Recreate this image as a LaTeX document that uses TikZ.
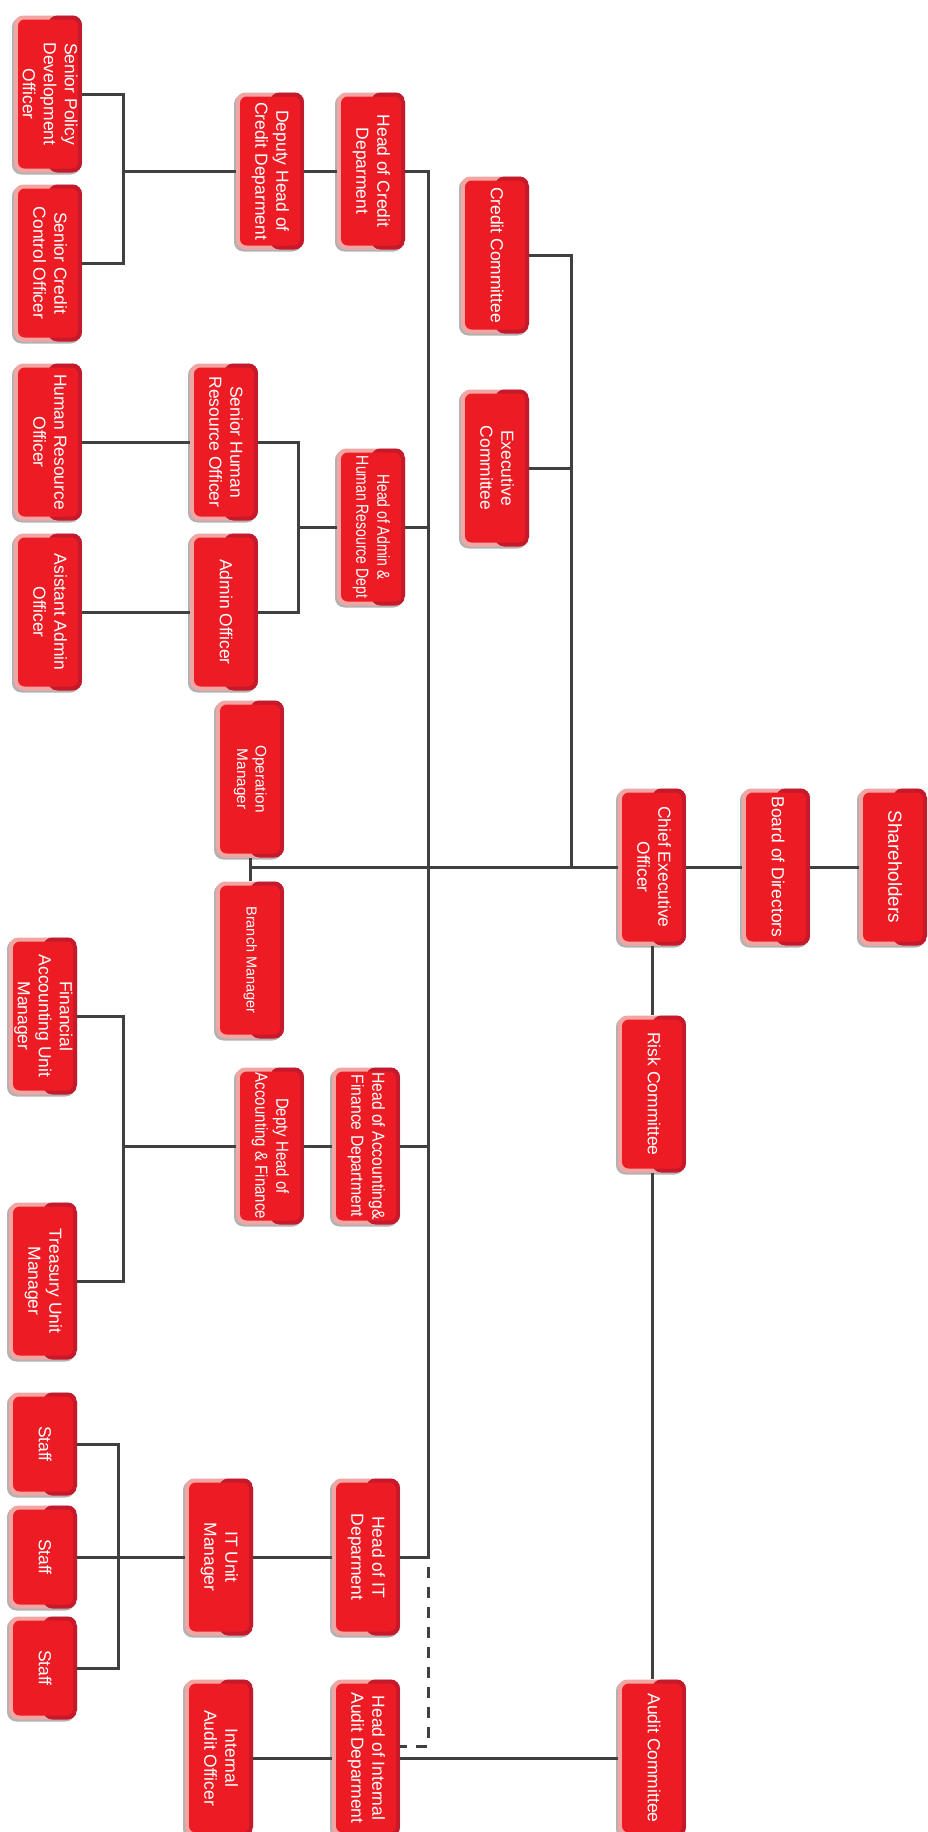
\documentclass[tikz,border=0pt]{standalone}
\usepackage{fontspec}
\usepackage{graphicx}
\newfontfamily\boxfamily{Liberation Sans}
\usetikzlibrary{shadows}
\definecolor{boxred}{HTML}{ED1C24}
\definecolor{boxpink}{HTML}{F2A6A4}
\definecolor{boxdark}{HTML}{C41A2C}
\definecolor{linegrey}{HTML}{404040}
\newcommand{\boxfontsel}{\boxfamily\fontsize{13.1pt}{15.75pt}\selectfont}
\newcommand{\bt}[1]{\rotatebox{-90}{\begin{tabular}{@{}c@{}}#1\end{tabular}}}
\newcommand{\bts}[3]{\rotatebox{-90}{\scalebox{#1}[#2]{\begin{tabular}{@{}c@{}}#3\end{tabular}}}}
\begin{document}
\begin{tikzpicture}[x=0.75pt,y=-0.75pt,
  orgbox/.style={rectangle, rounded corners=7pt, minimum width=51pt, minimum height=117.75pt,
    inner sep=0pt, fill=boxpink, text=white, font=\boxfontsel,
    drop shadow={shadow xshift=-1.5pt, shadow yshift=-1.5pt, fill=black, opacity=0.3},
    path picture={
      \fill[boxdark] (path picture bounding box.north) rectangle (path picture bounding box.south east);
      \fill[boxred, rounded corners=5pt] ([xshift=3pt,yshift=-3pt]path picture bounding box.north west) rectangle ([xshift=-3pt,yshift=3pt]path picture bounding box.south east);
    }},
  staffbox/.style={orgbox, minimum height=77.25pt},
  conn/.style={draw=linegrey, line width=2.25pt},
  dconn/.style={conn, dash pattern=on 8pt off 7pt}]
\useasboundingbox (0,0) rectangle (928,1832);
\fill[white] (0,0) rectangle (928,1832);

% ---- nodes ----
\node[orgbox] (spdo) at (48,94) {\bt{Senior Policy\\Development\\Officer}};
\node[orgbox] (scco) at (48,263) {\bt{Senior Credit\\Control Officer}};
\node[orgbox] (dhcd) at (270,171) {\bt{Deputy Head of\\Credit Deparment}};
\node[orgbox] (hcd) at (371,171) {\bt{Head of Credit\\Deparment}};
\node[orgbox] (cc) at (495,255) {\bt{Credit Committee}};
\node[orgbox] (ec) at (495,468) {\bt{Executive\\Committee}};
\node[orgbox] (hro) at (48,442) {\bt{Human Resource\\Officer}};
\node[orgbox] (shro) at (224,442) {\bt{Senior Human\\Resource Officer}};
\node[orgbox] (aao) at (48,612) {\bt{Asistant Admin\\Officer}};
\node[orgbox] (ao) at (224,612) {\bt{Admin Officer}};
\node[orgbox] (hahr) at (371,527) {\bts{0.8}{1}{Head of Admin \&\\Human Resource Dept}};
\node[orgbox] (om) at (250,779) {\bts{0.88}{0.88}{Operation\\Manager}};
\node[orgbox] (bm) at (250,960) {\bts{0.83}{0.83}{Branch Manager}};
\node[orgbox] (ceo) at (652,867) {\bt{Chief Executive\\Officer}};
\node[orgbox] (bod) at (776,867) {\bt{Board of Directors}};
\node[orgbox] (sh) at (893,867) {\bts{1.08}{1.08}{Shareholders}};
\node[orgbox] (rc) at (652,1094) {\bt{Risk Committee}};
\node[orgbox] (ac) at (652,1758) {\bt{Audit Committee}};
\node[orgbox] (faum) at (43,1016) {\bt{Financial\\Accounting Unit\\Manager}};
\node[orgbox] (tum) at (43,1281) {\bt{Treasury Unit\\Manager}};
\node[orgbox] (dhaf) at (270,1146) {\bts{0.86}{1}{Depty Head of\\Accounting \& Finance}};
\node[orgbox] (haf) at (366,1146) {\bts{0.9}{1}{Head of Accounting\&\\Finance Department}};
\node[staffbox] (st1) at (43,1444) {\bt{Staff}};
\node[staffbox] (st2) at (43,1557) {\bt{Staff}};
\node[staffbox] (st3) at (43,1668) {\bt{Staff}};
\node[orgbox] (itum) at (219,1557) {\bt{IT Unit\\Manager}};
\node[orgbox] (hit) at (366,1557) {\bt{Head of IT\\Deparment}};
\node[orgbox] (iao) at (219,1758) {\bt{Internal\\Audit Officer}};
\node[orgbox] (hiad) at (366,1758) {\bt{Head of Internal\\Audit Deparment}};

% ---- junction points ----
\coordinate (b1) at (123,171);
\coordinate (b2) at (298,527);
\coordinate (b3) at (123,1146);
\coordinate (b4) at (118,1557);
\coordinate (mbot) at (428,1557);
\coordinate (cj) at (571,867);
\coordinate (oj) at (250,867);
\coordinate (d1) at (428,1567);

% ---- connectors ----
\draw[conn] (spdo.east) -| (b1) |- (scco.east);
\draw[conn] (b1) -- (dhcd.west);
\draw[conn] (dhcd) -- (hcd);
\draw[conn] (hcd.east) -| (mbot) -- (hit.east);
\draw[conn] (hahr.east) -- (hahr.east -| mbot);
\draw[conn] (haf.east) -- (haf.east -| mbot);
\draw[conn] (hro) -- (shro);
\draw[conn] (aao) -- (ao);
\draw[conn] (shro.east) -| (b2) |- (ao.east);
\draw[conn] (b2) -- (hahr.west);
\draw[conn] (cc.east) -| (cj);
\draw[conn] (ec.east) -- (ec.east -| cj);
\draw[conn] (om.south) -- (bm.north);
\draw[conn] (oj) -- (ceo.west);
\draw[conn] (ceo) -- (bod);
\draw[conn] (bod) -- (sh);
\draw[conn] (ceo.south) -- (rc.north);
\draw[conn] (rc.south) -- (ac.north);
\draw[conn] (faum.east) -| (b3) |- (tum.east);
\draw[conn] (b3) -- (dhaf.west);
\draw[conn] (dhaf) -- (haf);
\draw[conn] (st1.east) -| (b4) |- (st3.east);
\draw[conn] (st2.east) -- (itum.west);
\draw[conn] (itum) -- (hit);
\draw[dconn] (d1) |- ([yshift=9pt]hiad.east);
\draw[conn] (iao) -- (hiad);
\draw[conn] (hiad) -- (ac);
\end{tikzpicture}
\end{document}
